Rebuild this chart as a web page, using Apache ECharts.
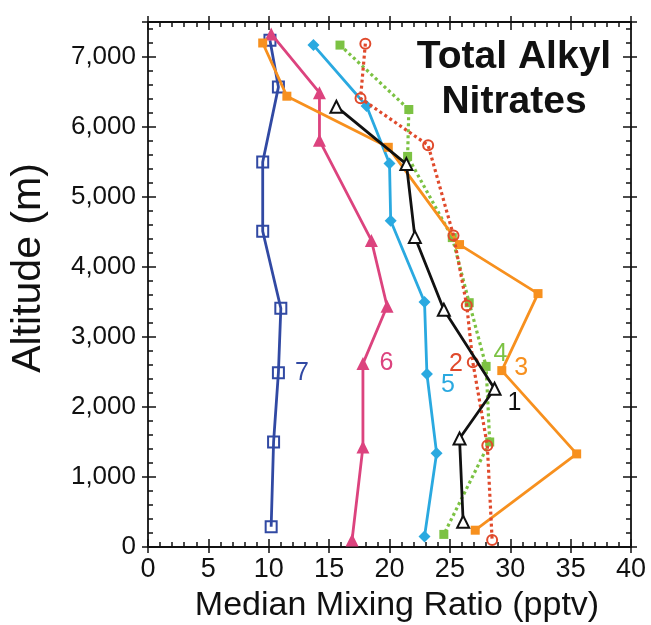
<!DOCTYPE html>
<html>
<head>
<meta charset="utf-8">
<script src="https://cdn.jsdelivr.net/npm/echarts@6/dist/echarts.min.js"></script>
<style>
html, body { margin: 0; padding: 0; background: #fff; }
#chart { width: 651px; height: 625px; }
</style>
</head>
<body>
<div id="chart"></div>
<script>
// mixing ratio (pptv) and altitude (m) per profile
var ratio1 = [15.6, 21.4, 22.1, 24.5, 28.7, 25.8, 26.1];
var alt1   = [6290, 5470, 4430, 3390, 2260, 1550, 360];

var ratio2 = [18.0, 17.6, 23.2, 25.3, 26.4, 26.9, 28.1, 28.5];
var alt2   = [7190, 6410, 5740, 4450, 3450, 2640, 1450, 100];

var ratio3 = [9.5, 11.5, 19.9, 25.8, 32.3, 29.3, 35.5, 27.1];
var alt3   = [7200, 6440, 5710, 4320, 3620, 2520, 1330, 240];

var ratio4 = [15.9, 21.6, 21.5, 25.2, 26.6, 28.0, 28.3, 24.5];
var alt4   = [7170, 6250, 5580, 4420, 3490, 2580, 1500, 180];

var ratio5 = [13.7, 18.1, 20.0, 20.1, 22.9, 23.1, 23.9, 22.9];
var alt5   = [7170, 6300, 5480, 4660, 3500, 2470, 1340, 150];

var ratio6 = [10.2, 14.2, 14.2, 18.5, 19.8, 17.8, 17.8, 16.9];
var alt6   = [7330, 6490, 5810, 4380, 3440, 2620, 1430, 100];

var ratio7 = [10.1, 10.8, 9.5, 9.5, 11.0, 10.8, 10.4, 10.2];
var alt7   = [7240, 6570, 5500, 4510, 3410, 2490, 1500, 290];

var profileNames = ['1', '2', '3', '4', '5', '6', '7'];
var xTicks = [0, 5, 10, 15, 20, 25, 30, 35, 40];
var yTicks = [0, 1000, 2000, 3000, 4000, 5000, 6000, 7000];

var chart = echarts.init(document.getElementById('chart'));

var ink = '#111';
var font = 'Liberation Sans, Arial, sans-serif';
var tickLine = { color: ink, width: 1.5 };

function pairs(xs, ys) {
    return xs.map(function (x, i) { return [x, ys[i]]; });
}

function altLabel(v) {
    if (v % 1000 !== 0) return '';
    if (v === 0) return '0';
    return Math.floor(v / 1000) + ',' + ('000' + (v % 1000)).slice(-3);
}

// each side gets two axes: one with inner ticks (+minor), one with outer ticks
function sideAxis(pos, inside, labels, isY) {
    var ax = {
        type: 'value',
        position: pos,
        min: isY ? 0 : xTicks[0],
        max: isY ? 7500 : xTicks[xTicks.length - 1],
        interval: isY ? yTicks[1] - yTicks[0] : xTicks[1] - xTicks[0],
        splitLine: { show: false },
        axisLine: { show: inside, onZero: false, lineStyle: { color: ink, width: 1.8 } },
        axisTick: { show: true, inside: inside, length: inside ? 8 : 6, lineStyle: tickLine },
        minorTick: { show: inside, splitNumber: 5, length: 5, lineStyle: tickLine },
        axisLabel: { show: labels, color: ink, fontSize: isY ? 26 : 27, fontFamily: font, margin: isY ? 12 : 9 }
    };
    if (isY && labels) ax.axisLabel.formatter = altLabel;
    return ax;
}

var profiles = [
    { x: ratio1, y: alt1, color: '#111111', symbol: 'triangle', size: 12, fill: '#ffffff', dash: 'solid', labelAt: 4, pos: 'right', off: [0, 14] },
    { x: ratio2, y: alt2, color: '#e04a2c', symbol: 'circle', size: 10, fill: 'rgba(255,255,255,0)', dash: [3, 3], labelAt: 5, pos: 'left', off: [2, 2] },
    { x: ratio3, y: alt3, color: '#f7901e', symbol: 'rect', size: 9, fill: null, dash: 'solid', labelAt: 5, pos: 'right', off: [2, -2] },
    { x: ratio4, y: alt4, color: '#7cc243', symbol: 'rect', size: 9, fill: null, dash: [3, 3], labelAt: 5, pos: 'right', off: [-3, -12] },
    { x: ratio5, y: alt5, color: '#2aa9e0', symbol: 'diamond', size: 12, fill: null, dash: 'solid', labelAt: 5, pos: 'right', off: [2, 11] },
    { x: ratio6, y: alt6, color: '#dc437e', symbol: 'triangle', size: 13, fill: null, dash: 'solid', labelAt: 5, pos: 'right', off: [4, 0] },
    { x: ratio7, y: alt7, color: '#3149a3', symbol: 'rect', size: 11, fill: 'rgba(255,255,255,0)', dash: 'solid', labelAt: 5, pos: 'right', off: [4, 0] }
];

var series = profiles.map(function (p, k) {
    var data = pairs(p.x, p.y).map(function (v, i) {
        if (i !== p.labelAt) return v;
        return {
            value: v,
            label: {
                show: true, formatter: profileNames[k], position: p.pos, distance: 6,
                offset: p.off, color: p.color, fontSize: 25, fontFamily: font
            }
        };
    });
    var open = p.fill !== null;
    var dotted = p.dash !== 'solid';
    return {
        type: 'line',
        name: profileNames[k],
        xAxisIndex: 0,
        yAxisIndex: 0,
        data: data,
        symbol: p.symbol,
        symbolSize: p.size,
        showAllSymbol: true,
        clip: false,
        z: 10 - k,
        lineStyle: { color: p.color, width: dotted ? 3.2 : 2.8, type: p.dash },
        itemStyle: {
            color: open ? p.fill : p.color,
            borderColor: p.color,
            borderWidth: open ? 2 : 0
        },
        emphasis: { disabled: true }
    };
});

var option = {
    animation: false,
    backgroundColor: '#fff',
    grid: { left: 148, right: 20, top: 22, bottom: 78 },
    xAxis: [
        sideAxis('bottom', true, true, false),
        sideAxis('bottom', false, false, false),
        sideAxis('top', true, false, false),
        sideAxis('top', false, false, false)
    ],
    yAxis: [
        sideAxis('left', true, true, true),
        sideAxis('left', false, false, true),
        sideAxis('right', true, false, true),
        sideAxis('right', false, false, true)
    ],
    graphic: [
        {
            type: 'text', x: 514, y: 35,
            style: {
                text: 'Total Alkyl\nNitrates', align: 'center', verticalAlign: 'top',
                fill: ink, fontSize: 39, fontWeight: 'bold', lineHeight: 45, fontFamily: font
            }
        },
        {
            type: 'text', x: 397, y: 606,
            style: {
                text: 'Median Mixing Ratio (pptv)', align: 'center', verticalAlign: 'middle',
                fill: ink, fontSize: 34, fontFamily: font
            }
        },
        {
            type: 'text', x: 29, y: 268, rotation: Math.PI / 2,
            style: {
                text: 'Altitude (m)', align: 'center', verticalAlign: 'middle',
                fill: ink, fontSize: 41, fontFamily: font
            }
        }
    ],
    series: series
};

chart.setOption(option);
</script>
</body>
</html>
